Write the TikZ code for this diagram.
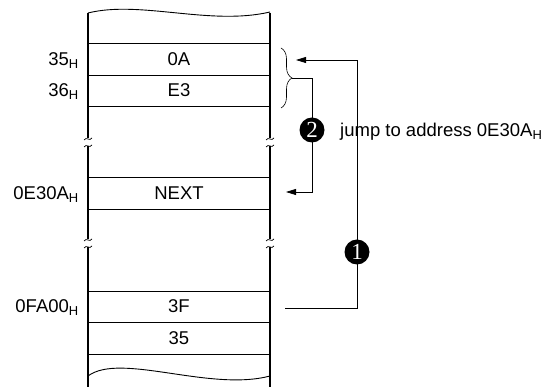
\documentclass[tikz,border=0pt]{standalone}
\usepackage{fontspec}
\setmainfont{Liberation Sans}
\newfontfamily\numfont{Liberation Serif}
\usetikzlibrary{decorations.pathreplacing,arrows.meta}
\tikzset{
  colline/.style={line width=1.4pt},
  cellline/.style={line width=0.9pt},
  wave/.style={line width=0.9pt},
  conn/.style={line width=0.8pt},
  arr/.style={conn,-{Triangle[length=10pt,width=6pt]}},
  celltext/.style={anchor=center,inner sep=0pt},
  addr/.style={anchor=base east,inner sep=0pt},
  numcirc/.style={circle,fill=black,text=white,inner sep=0pt,minimum size=25pt,font=\numfont\fontsize{23}{23}\selectfont},
  brk/.style={line width=0.7pt},
}
\begin{document}
\begin{tikzpicture}[x=1pt,y=-1pt,font=\fontsize{18.5}{21}\selectfont]
\useasboundingbox (0,0) rectangle (558,387);
% column edges with breaks
\foreach \xx in {88,270}{
  \draw[colline] (\xx,13) -- (\xx,138.5);
  \draw[colline] (\xx,146.5) -- (\xx,239.5);
  \draw[colline] (\xx,247.5) -- (\xx,387);
  \foreach \yy in {139,146,240,247}{
    \draw[brk] (\xx-4,\yy+1) .. controls (\xx-1.5,\yy-3) and (\xx+1.5,\yy+3) .. (\xx+4,\yy-1);
  }
}
% wavy ends
\draw[wave] (88,13) .. controls (140,0) and (210,26) .. (270,12);
\draw[wave] (88,376) .. controls (120,352) and (210,392) .. (270,376);
% cell lines
\foreach \yy in {43,75,106,177,209,291,322,354}{
  \draw[cellline] (88,\yy) -- (270,\yy);
}
% cell texts
\node[celltext] (m0A) at (179,59) {0A};
\node[celltext] (mE3) at (179,90.5) {E3};
\node[celltext] (mNEXT) at (179,193) {NEXT};
\node[celltext] (m3F) at (179,306.5) {3F};
\node[celltext] (m35) at (179,338) {35};
% addresses
\node[addr] (a35) at (79,65.5) {35\textsubscript{H}};
\node[addr] (a36) at (79,97) {36\textsubscript{H}};
\node[addr] (aE30A) at (79,199.5) {0E30A\textsubscript{H}};
\node[addr] (aFA00) at (79,313) {0FA00\textsubscript{H}};
% brace
\draw[line width=0.6pt,decorate,decoration={brace,amplitude=11pt}] (281,48) -- (281,108);
\coordinate (braceTip) at (292,78);
% coordinates
\coordinate (k1) at (357,252);
\coordinate (k2) at (312,130);
\coordinate (s1) at (285,308);
\coordinate (d1) at (296,60);
\coordinate (d2) at (286,192);
% connectors
\draw[arr] (s1) -- (s1 -| k1) -- (d1 -| k1) -- (d1);
\draw[arr] (braceTip) -- (braceTip -| k2) -- (d2 -| k2) -- (d2);
% numbered circles
\node[numcirc] (c1) at (k1) {1};
\node[numcirc] (c2) at (k2) {2};
% jump text
\node[anchor=base west,inner sep=0pt] (jump) at (340,136.5) {jump to address 0E30A\textsubscript{H}};
\end{tikzpicture}
\end{document}
